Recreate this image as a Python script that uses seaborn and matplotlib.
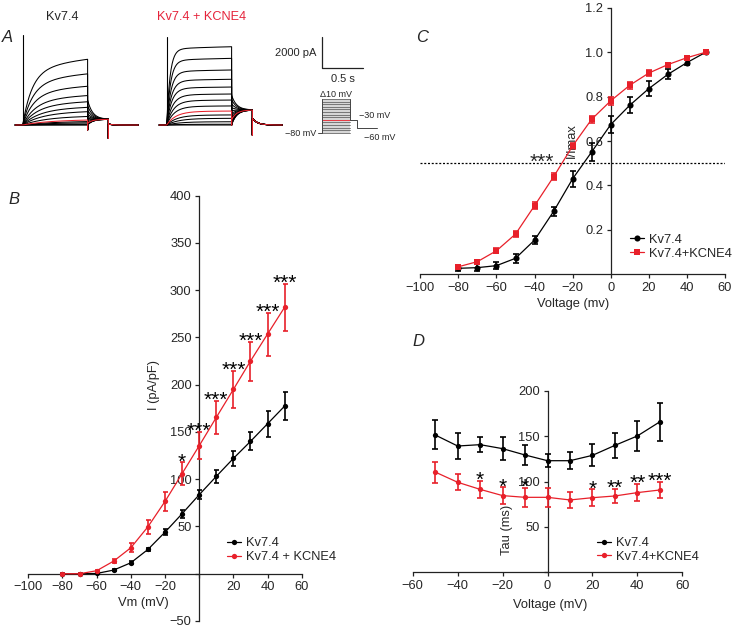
import numpy as np
import pandas as pd
import matplotlib
matplotlib.use("Agg")
import matplotlib.pyplot as plt
import seaborn as sns

# ---- data ----
# panel B: current density (pA/pF)
vB = [-80, -70, -60, -50, -40, -30, -20, -10, 0, 10, 20, 30, 40, 50]
b_kv = [0, 0, 0.3, 3.9, 11.6, 25.7, 44, 63.5, 83.6, 103, 122, 140, 158.7, 177.4]
b_kv_err = [0, 0, 0.5, 1, 1.5, 1.5, 3, 4, 5, 6.7, 8, 9.5, 14, 14.6]
b_kcne = [0, 0, 3.2, 13.4, 27.5, 49.7, 76.5, 106, 135.4, 165.4, 195, 225, 253.6, 282]
b_kcne_err = [0.5, 0.5, 1, 2.5, 5, 7.4, 10, 11.8, 14.5, 17.8, 19.6, 20.6, 22.7, 24.7]
b_stars = ["", "", "", "", "", "", "", "*", "***", "***", "***", "***", "***", "***"]

# panel C: I/Imax
vC = [-80, -70, -60, -50, -40, -30, -20, -10, 0, 10, 20, 30, 40, 50]
c_kv = [0.027, 0.030, 0.039, 0.072, 0.154, 0.283, 0.43, 0.551, 0.674, 0.761, 0.836, 0.9, 0.953, 1.0]
c_kv_err = [0.01, 0.015, 0.017, 0.02, 0.017, 0.02, 0.035, 0.04, 0.037, 0.037, 0.035, 0.023, 0.01, 0]
c_kcne = [0.034, 0.057, 0.106, 0.181, 0.309, 0.439, 0.578, 0.698, 0.781, 0.851, 0.906, 0.944, 0.975, 1.0]
c_kcne_err = [0.008, 0.008, 0.012, 0.015, 0.015, 0.015, 0.015, 0.015, 0.017, 0.015, 0.012, 0.008, 0.005, 0]

# panel D: activation tau (ms)
vD = [-50, -40, -30, -20, -10, 0, 10, 20, 30, 40, 50]
d_kv = [151.5, 139.3, 140.8, 136.4, 129.4, 123.1, 123.1, 129, 140, 150.4, 166]
d_kv_err = [16, 14, 8.6, 12.3, 10.7, 7, 9.6, 12, 13.8, 16.5, 21]
d_kcne = [110.6, 99.3, 91.5, 84.6, 82.7, 82.7, 79.8, 82.3, 84.2, 87.9, 90.8]
d_kcne_err = [11.6, 8.6, 9.4, 9, 10.5, 10.7, 8.6, 9.2, 7.7, 9.2, 9.2]
d_stars = ["", "", "*", "*", "*", "", "", "*", "**", "**", "***"]

# panel A: example traces (nA), steps -80..+50 mV, red = -30 mV
steps_mv = [-80, -70, -60, -50, -40, -30, -20, -10, 0, 10, 20, 30, 40, 50]
red_step = -30
amp_kv = [0, 0.02, 0.06, 0.14, 0.22, 0.32, 0.55, 0.86, 1.14, 1.5, 1.9, 2.5, 3.3, 4.24]
tau_kv = [0.4, 0.4, 0.38, 0.35, 0.32, 0.3, 0.26, 0.22, 0.19, 0.17, 0.15, 0.13, 0.12, 0.11]
amp_kcne = [0, 0.05, 0.21, 0.43, 0.65, 0.9, 1.23, 1.61, 2.0, 2.45, 2.95, 3.55, 4.3, 5.05]
tau_kcne = [0.16, 0.16, 0.15, 0.14, 0.12, 0.11, 0.09, 0.08, 0.07, 0.06, 0.055, 0.05, 0.045, 0.04]

RED = "#e8202a"
TITLE_RED = "#e5243b"
FS = 9.3
STAR_FS = 15

sns.set_theme(style="white")
plt.rcParams["font.family"] = ["Liberation Sans", "DejaVu Sans"]
plt.rcParams["axes.unicode_minus"] = True

fig = plt.figure(figsize=(7.35, 6.28), dpi=100)


def fmt(v, dec=None):
    s = f"{v:.{dec}f}" if dec is not None else f"{v:g}"
    return s.replace("-", "\u2212")


def style_axis(ax, xlim, ylim, xticks, yticks, xlabels, ylabels):
    ax.set_xlim(*xlim)
    ax.set_ylim(*ylim)
    for s in ["top", "right"]:
        ax.spines[s].set_visible(False)
    ax.spines["left"].set_position(("data", 0))
    ax.spines["bottom"].set_position(("data", 0))
    for s in ["left", "bottom"]:
        ax.spines[s].set_linewidth(0.9)
        ax.spines[s].set_color("#222222")
    ax.set_xticks(xticks)
    ax.set_xticklabels(xlabels)
    ax.set_yticks(yticks)
    ax.set_yticklabels(ylabels)
    ax.tick_params(bottom=True, left=True, direction="out", length=3.2, width=0.9,
                   color="#222222", labelsize=FS, pad=2.2)
    ax.set_xlabel("")
    ax.set_ylabel("")
    ax.patch.set_alpha(0)


def draw_series(ax, v, m, e, color, marker, ms, label, capsize):
    ax.errorbar(v, m, yerr=e, fmt="none", ecolor=color, elinewidth=1.2,
                capsize=capsize, capthick=1.2, zorder=3)
    sns.lineplot(x=v, y=m, color=color, marker=marker, markersize=ms,
                 markeredgewidth=0, lw=0.9, label=label, ax=ax, zorder=4)


def draw_stars(ax, v, m, e, stars, dy):
    for x, y, err, s in zip(v, m, e, stars):
        if s:
            ax.annotate(s, xy=(x, y + err), xytext=(0, dy), textcoords="offset points",
                        ha="center", va="baseline", fontsize=STAR_FS, color="black")


def legend(ax, anchor):
    ax.legend(loc="center left", bbox_to_anchor=anchor, frameon=False, fontsize=FS,
              handlelength=1.1, handletextpad=0.4, labelspacing=0.15,
              borderpad=0, borderaxespad=0)


# ---------------- panel B ----------------
axB = fig.add_axes([0.0385, 0.01115, 0.3720, 0.6772])
draw_series(axB, vB, b_kv, b_kv_err, "black", "o", 3.8, "Kv7.4", 1.8)
draw_series(axB, vB, b_kcne, b_kcne_err, RED, "o", 3.8, "Kv7.4 + KCNE4", 1.8)
bx = [-100, -80, -60, -40, -20, 0, 20, 40, 60]
by = [-50, 0, 50, 100, 150, 200, 250, 300, 350, 400]
style_axis(axB, (-100, 60), (-50, 400), bx, by,
           [fmt(x) if x != 0 else "" for x in bx],
           [fmt(y) if y != 0 else "" for y in by])
draw_stars(axB, vB, b_kcne, b_kcne_err, b_stars, -3.6)
legend(axB, (0.727, 0.166))
axB.text(0.46, 0.555, "I (pA/pF)", transform=axB.transAxes, rotation=90,
         ha="center", va="center", fontsize=FS)
axB.text(0.42, 0.042, "Vm (mV)", transform=axB.transAxes, ha="center",
         va="center", fontsize=FS)

# ---------------- panel C ----------------
axC = fig.add_axes([0.5718, 0.5632, 0.4146, 0.4245])
axC.axhline(0.5, color="black", lw=0.9, ls=(0, (1.6, 1.4)), zorder=1)
draw_series(axC, vC, c_kv, c_kv_err, "black", "o", 4.4, "Kv7.4", 2.2)
draw_series(axC, vC, c_kcne, c_kcne_err, RED, "s", 4.6, "Kv7.4+KCNE4", 2.2)
cx = [-100, -80, -60, -40, -20, 0, 20, 40, 60]
cy = [0.2, 0.4, 0.6, 0.8, 1.0, 1.2]
style_axis(axC, (-100, 60), (0, 1.2), cx, cy, [fmt(x) for x in cx], [fmt(y, 1) for y in cy])
axC.annotate("***", xy=(-36, 0.5), xytext=(0, -3.2), textcoords="offset points",
             ha="center", va="baseline", fontsize=STAR_FS)
legend(axC, (0.688, 0.104))
axC.text(0.497, 0.5, "I/Imax", transform=axC.transAxes, rotation=90,
         ha="center", va="center", fontsize=FS)
axC.text(0.50, -0.112, "Voltage (mv)", transform=axC.transAxes, ha="center",
         va="center", fontsize=FS)

# ---------------- panel D ----------------
axD = fig.add_axes([0.5615, 0.0887, 0.3668, 0.2887])
draw_series(axD, vD, d_kv, d_kv_err, "black", "o", 3.8, "Kv7.4", 2.2)
draw_series(axD, vD, d_kcne, d_kcne_err, RED, "o", 3.8, "Kv7.4+KCNE4", 2.2)
dx = [-60, -40, -20, 0, 20, 40, 60]
dy = [0, 50, 100, 150, 200]
style_axis(axD, (-60, 60), (0, 200), dx, dy, [fmt(x) for x in dx],
           [fmt(y) if y != 0 else "" for y in dy])
draw_stars(axD, vD, d_kcne, d_kcne_err, d_stars, -3.6)
legend(axD, (0.684, 0.123))
axD.text(0.349, 0.233, "Tau (ms)", transform=axD.transAxes, rotation=90,
         ha="center", va="center", fontsize=FS)
axD.text(0.51, -0.18, "Voltage (mV)", transform=axD.transAxes, ha="center",
         va="center", fontsize=FS)

# ---------------- panel A: traces ----------------
axA = fig.add_axes([0, 0.7452, 0.5442, 0.2548])
axA.set_xlim(-0.273, 4.535)
axA.set_ylim(-2.258, 8.065)
axA.axis("off")

PULSE, TAIL, POST = 0.78, 0.25, 0.36


def trace(amp, tau, slow_frac, tail_ss, undershoot, spike, post0, post_tau):
    t1 = np.linspace(0, PULSE, 120)
    shape = (1 - slow_frac) * (1 - np.exp(-t1 / tau)) + slow_frac * (1 - np.exp(-t1 / 0.8))
    i1 = amp * shape / shape[-1]
    t2 = np.linspace(0, TAIL, 60)
    i2 = tail_ss + (amp * 0.38 - tail_ss) * np.exp(-t2 / 0.06)
    t3 = np.linspace(0, POST, 60)
    i3 = post0 * np.exp(-t3 / post_tau)
    t = np.concatenate([[-0.09, 0], t1, [PULSE], PULSE + t2, [PULSE + TAIL], PULSE + TAIL + t3])
    i = np.concatenate([[0, 0], i1, [undershoot], i2, [spike], i3])
    return t, i


sets = [
    (0.0, amp_kv, tau_kv, 0.3, 0.37, -0.32, -0.86, 0.06, 0.05, 5.8),
    (1.731, amp_kcne, tau_kcne, 0.05, 0.97, 0.0, -0.65, 0.43, 0.06, 5.7),
]
for off, amps, taus, sf, tss, und, spk, p0, ptau, cap in sets:
    for mv, a, tau in zip(steps_mv, amps, taus):
        t, i = trace(a, tau, sf, tss, und, spk, p0, ptau)
        red = mv == red_step
        axA.plot(t + off, i, color=RED if red else "black", lw=0.75, zorder=3 if red else 2)
    axA.plot([off, off], [0, cap], color="black", lw=0.8)

axA.text(0.48, 7.0, "Kv7.4", ha="center", va="center", fontsize=9.2)
axA.text(2.15, 7.0, "Kv7.4 + KCNE4", ha="center", va="center", fontsize=9.2, color=TITLE_RED)
fig.text(7 / 735, 1 - 37 / 628, "A", fontsize=12, style="italic", ha="center", va="center")
fig.text(14 / 735, 1 - 200 / 628, "B", fontsize=12, style="italic", ha="center", va="center")
fig.text(422 / 735, 1 - 37 / 628, "C", fontsize=12, style="italic", ha="center", va="center")
fig.text(418 / 735, 1 - 341 / 628, "D", fontsize=12, style="italic", ha="center", va="center")

# scale bar: 2000 pA / 0.5 s
sb_x, sb_y = 3.594, 3.66
axA.plot([sb_x, sb_x, sb_x + 0.5], [sb_y + 2.0, sb_y, sb_y], color="#222222", lw=0.9)
axA.text(sb_x - 0.07, sb_y + 1.0, "2000 pA", ha="right", va="center", fontsize=8)
axA.text(sb_x + 0.25, sb_y - 0.7, "0.5 s", ha="center", va="center", fontsize=8)

# voltage protocol
axP = fig.add_axes([0.4082, 0.7691, 0.1361, 0.0908])
axP.set_xlim(-0.767, 2.767)
axP.set_ylim(-127.5, 92.6)
axP.axis("off")
axP.fill_between([0, 1], steps_mv[0], steps_mv[-1], color="#d6d6d6", lw=0)
for mv in steps_mv:
    axP.plot([0, 1], [mv, mv], color=RED if mv == red_step else "#666666", lw=0.6)
axP.plot([-0.13, 0, 0], [-80, -80, steps_mv[-1]], color="#444444", lw=0.7)
axP.plot([1, 1, 1.24, 1.24, 1.94], [steps_mv[-1], -30, -30, -60, -60], color="#444444", lw=0.7)
axP.text(0.5, 66, "\u039410 mV", ha="center", va="center", fontsize=6.5)
axP.text(1.3, -15, "\u221230 mV", ha="left", va="center", fontsize=6.5)
axP.text(1.5, -97, "\u221260 mV", ha="left", va="center", fontsize=6.5)
axP.text(-0.18, -85, "\u221280 mV", ha="right", va="center", fontsize=6.5)

plt.savefig("out.png", dpi=100)
